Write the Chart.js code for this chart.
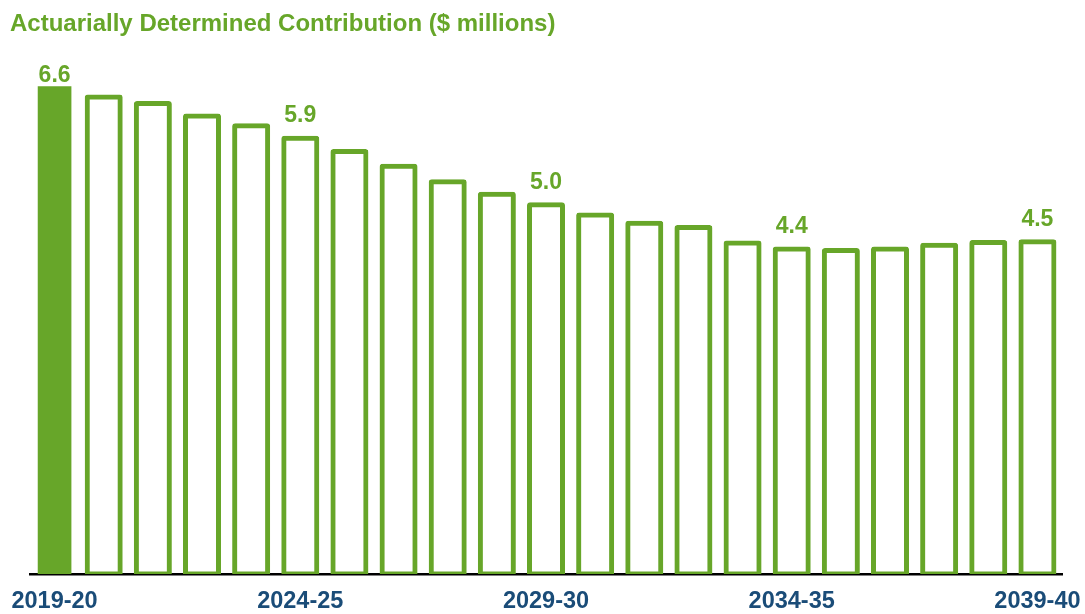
<!DOCTYPE html>
<html>
<head>
<meta charset="utf-8">
<title>Actuarially Determined Contribution</title>
<script src="https://cdn.jsdelivr.net/npm/chart.js@4.4.1/dist/chart.umd.min.js"></script>
<style>
  html, body { margin: 0; padding: 0; background: #ffffff; }
  #wrap { width: 1085px; height: 614px; position: relative; }
</style>
</head>
<body>
<div id="wrap"><canvas id="adc" width="1085" height="614"></canvas></div>
<script>
// Fiscal years on the x axis
const categories = [
  '2019-20', '2020-21', '2021-22', '2022-23', '2023-24', '2024-25', '2025-26',
  '2026-27', '2027-28', '2028-29', '2029-30', '2030-31', '2031-32', '2032-33',
  '2033-34', '2034-35', '2035-36', '2036-37', '2037-38', '2038-39', '2039-40'
];

// Contribution in $ millions for each year
const contributions = [
  6.6, 6.46, 6.37, 6.20, 6.07, 5.9, 5.72,
  5.52, 5.31, 5.14, 5.0, 4.86, 4.75, 4.69,
  4.48, 4.4, 4.38, 4.40, 4.45, 4.49, 4.5
];

// Years whose label is printed under the axis
const shownTicks = ['2019-20', '2024-25', '2029-30', '2034-35', '2039-40'];

// Years whose value is printed above the bar
const labelledYears = ['2019-20', '2024-25', '2029-30', '2034-35', '2039-40'];

// The current year is drawn solid, projections as outlines
const actualYear = '2019-20';

const titleText = 'Actuarially Determined Contribution ($ millions)';

const GREEN = '#67a629';
const NAVY = '#1a4c78';
const FONT = '"Liberation Sans", Arial, Helvetica, sans-serif';

const actualData = categories.map((c, i) => c === actualYear ? contributions[i] : null);
const projectedData = categories.map((c, i) => c === actualYear ? null : contributions[i]);

// Title and value labels drawn onto the canvas
const annotate = {
  id: 'annotate',
  afterDraw(chart) {
    const ctx = chart.ctx;
    ctx.save();
    ctx.fillStyle = GREEN;
    ctx.font = 'bold 24px ' + FONT;
    ctx.textAlign = 'left';
    ctx.textBaseline = 'alphabetic';
    ctx.fillText(titleText, 10, 31);

    ctx.font = 'bold 23px ' + FONT;
    ctx.textAlign = 'center';
    labelledYears.forEach(yr => {
      const i = categories.indexOf(yr);
      const solid = yr === actualYear;
      const el = chart.getDatasetMeta(solid ? 0 : 1).data[i];
      if (!el) return;
      const gap = solid ? 5 : 16;
      ctx.fillText(contributions[i].toFixed(1), el.x, el.y - gap);
    });
    ctx.restore();
  }
};

new Chart(document.getElementById('adc'), {
  type: 'bar',
  data: {
    labels: categories,
    datasets: [
      {
        data: actualData,
        backgroundColor: GREEN,
        borderWidth: 0,
        barThickness: 33,
        grouped: false
      },
      {
        // outline straddles the bar edge: 2.5px outside, 2.5px inside
        data: projectedData,
        backgroundColor: '#ffffff',
        borderColor: GREEN,
        borderWidth: 5,
        borderSkipped: false,
        borderRadius: 3,
        inflateAmount: 2.5,
        barThickness: 33,
        grouped: false
      }
    ]
  },
  options: {
    responsive: false,
    animation: false,
    devicePixelRatio: 1,
    layout: { padding: { left: 30, right: 23, top: 57, bottom: 0 } },
    plugins: {
      legend: { display: false },
      tooltip: { enabled: false },
      title: { display: false }
    },
    scales: {
      x: {
        offset: true,
        z: 1,
        grid: { display: false, drawTicks: false },
        border: { display: true, color: '#000000', width: 2.5 },
        ticks: {
          autoSkip: false,
          maxRotation: 0,
          minRotation: 0,
          padding: 13,
          color: NAVY,
          font: { family: FONT, size: 23.5, weight: 'bold' },
          callback: function (value) {
            const lbl = this.getLabelForValue(value);
            return shownTicks.includes(lbl) ? lbl : '';
          }
        },
        afterFit(scale) {
          scale.height = 40;
          scale.paddingLeft = 0;
          scale.paddingRight = 0;
        }
      },
      y: {
        display: false,
        min: 0,
        max: 7
      }
    }
  },
  plugins: [annotate]
});
</script>
</body>
</html>
